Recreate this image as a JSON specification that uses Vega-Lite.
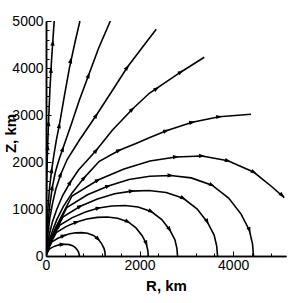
{
  "$schema": "https://vega.github.io/schema/vega-lite/v6.json",
  "width": 240,
  "height": 235,
  "autosize": "none",
  "padding": {"left": 46, "top": 21, "right": 17, "bottom": 47},
  "background": "white",
  "config": {"view": {"stroke": null}, "font": "Liberation Sans"},
  "resolve": {"axis": {"x": "independent", "y": "independent"}},
  "datasets": {
    "lines": [
      {"c":"A","R":0,"Z":0},{"c":"A","R":4,"Z":760},{"c":"A","R":15,"Z":1611},{"c":"A","R":32,"Z":2249},{"c":"A","R":56,"Z":2888},{"c":"A","R":83,"Z":3526},{"c":"A","R":118,"Z":4164},{"c":"A","R":147,"Z":4590},{"c":"A","R":176,"Z":5000},
      {"c":"B","R":0,"Z":0},{"c":"B","R":6,"Z":334},{"c":"B","R":24,"Z":717},{"c":"B","R":47,"Z":1100},{"c":"B","R":79,"Z":1483},{"c":"B","R":120,"Z":1824},{"c":"B","R":167,"Z":2143},{"c":"B","R":220,"Z":2462},{"c":"B","R":284,"Z":2781},{"c":"B","R":391,"Z":3398},{"c":"B","R":498,"Z":3988},{"c":"B","R":620,"Z":4548},{"c":"B","R":725,"Z":5000},
      {"c":"C","R":0,"Z":0},{"c":"C","R":17,"Z":334},{"c":"C","R":45,"Z":717},{"c":"C","R":83,"Z":1100},{"c":"C","R":135,"Z":1462},{"c":"C","R":199,"Z":1781},{"c":"C","R":274,"Z":2037},{"c":"C","R":359,"Z":2281},{"c":"C","R":541,"Z":2803},{"c":"C","R":712,"Z":3313},{"c":"C","R":910,"Z":3845},{"c":"C","R":1124,"Z":4420},{"c":"C","R":1375,"Z":5000},
      {"c":"D","R":0,"Z":0},{"c":"D","R":19,"Z":228},{"c":"D","R":45,"Z":505},{"c":"D","R":81,"Z":803},{"c":"D","R":135,"Z":1100},{"c":"D","R":209,"Z":1420},{"c":"D","R":316,"Z":1739},{"c":"D","R":455,"Z":2058},{"c":"D","R":712,"Z":2462},{"c":"D","R":1075,"Z":2994},{"c":"D","R":1395,"Z":3483},{"c":"D","R":1737,"Z":4015},{"c":"D","R":2208,"Z":4633},{"c":"D","R":2357,"Z":4825},
      {"c":"E","R":0,"Z":0},{"c":"E","R":28,"Z":228},{"c":"E","R":71,"Z":462},{"c":"E","R":135,"Z":717},{"c":"E","R":231,"Z":994},{"c":"E","R":359,"Z":1292},{"c":"E","R":519,"Z":1569},{"c":"E","R":690,"Z":1824},{"c":"E","R":883,"Z":2037},{"c":"E","R":1075,"Z":2249},{"c":"E","R":1417,"Z":2675},{"c":"E","R":1844,"Z":3122},{"c":"E","R":2208,"Z":3462},{"c":"E","R":2885,"Z":3916},{"c":"E","R":3383,"Z":4228},
      {"c":"F","R":0,"Z":0},{"c":"F","R":49,"Z":249},{"c":"F","R":124,"Z":496},{"c":"F","R":231,"Z":773},{"c":"F","R":370,"Z":1050},{"c":"F","R":562,"Z":1348},{"c":"F","R":818,"Z":1668},{"c":"F","R":1139,"Z":2015},{"c":"F","R":1566,"Z":2249},{"c":"F","R":1923,"Z":2392},{"c":"F","R":2208,"Z":2515},{"c":"F","R":2571,"Z":2664},{"c":"F","R":3126,"Z":2845},{"c":"F","R":3703,"Z":2962},{"c":"F","R":4381,"Z":3015},
      {"c":"G","R":0,"Z":0},{"c":"G","R":56,"Z":255},{"c":"G","R":222,"Z":638},{"c":"G","R":556,"Z":1277},{"c":"G","R":1111,"Z":1617},{"c":"G","R":1667,"Z":1851},{"c":"G","R":2222,"Z":2022},{"c":"G","R":2778,"Z":2107},{"c":"G","R":3334,"Z":2128},{"c":"G","R":3889,"Z":2026},{"c":"G","R":4445,"Z":1781},{"c":"G","R":4815,"Z":1484},{"c":"G","R":5093,"Z":1243},
      {"c":"H","R":0,"Z":0},{"c":"H","R":44,"Z":206},{"c":"H","R":177,"Z":514},{"c":"H","R":444,"Z":1028},{"c":"H","R":887,"Z":1302},{"c":"H","R":1331,"Z":1490},{"c":"H","R":1774,"Z":1627},{"c":"H","R":2218,"Z":1696},{"c":"H","R":2662,"Z":1713},{"c":"H","R":3105,"Z":1662},{"c":"H","R":3549,"Z":1507},{"c":"H","R":3904,"Z":1233},{"c":"H","R":4170,"Z":891},{"c":"H","R":4347,"Z":548},{"c":"H","R":4414,"Z":257},{"c":"H","R":4436,"Z":0},
      {"c":"I","R":0,"Z":0},{"c":"I","R":37,"Z":167},{"c":"I","R":147,"Z":418},{"c":"I","R":367,"Z":836},{"c":"I","R":733,"Z":1059},{"c":"I","R":1100,"Z":1213},{"c":"I","R":1467,"Z":1324},{"c":"I","R":1834,"Z":1380},{"c":"I","R":2200,"Z":1394},{"c":"I","R":2567,"Z":1352},{"c":"I","R":2934,"Z":1227},{"c":"I","R":3227,"Z":1004},{"c":"I","R":3447,"Z":725},{"c":"I","R":3594,"Z":446},{"c":"I","R":3649,"Z":209},{"c":"I","R":3667,"Z":0},
      {"c":"J","R":0,"Z":0},{"c":"J","R":28,"Z":129},{"c":"J","R":112,"Z":323},{"c":"J","R":281,"Z":645},{"c":"J","R":562,"Z":817},{"c":"J","R":844,"Z":935},{"c":"J","R":1125,"Z":1021},{"c":"J","R":1406,"Z":1064},{"c":"J","R":1687,"Z":1075},{"c":"J","R":1968,"Z":1043},{"c":"J","R":2250,"Z":946},{"c":"J","R":2475,"Z":774},{"c":"J","R":2643,"Z":559},{"c":"J","R":2756,"Z":344},{"c":"J","R":2798,"Z":161},{"c":"J","R":2812,"Z":0},
      {"c":"K","R":0,"Z":0},{"c":"K","R":22,"Z":100},{"c":"K","R":87,"Z":249},{"c":"K","R":219,"Z":498},{"c":"K","R":437,"Z":631},{"c":"K","R":656,"Z":722},{"c":"K","R":874,"Z":789},{"c":"K","R":1093,"Z":822},{"c":"K","R":1312,"Z":830},{"c":"K","R":1530,"Z":805},{"c":"K","R":1749,"Z":730},{"c":"K","R":1924,"Z":598},{"c":"K","R":2055,"Z":432},{"c":"K","R":2142,"Z":266},{"c":"K","R":2175,"Z":125},{"c":"K","R":2186,"Z":0},
      {"c":"L","R":0,"Z":0},{"c":"L","R":13,"Z":60},{"c":"L","R":51,"Z":149},{"c":"L","R":127,"Z":299},{"c":"L","R":253,"Z":378},{"c":"L","R":380,"Z":433},{"c":"L","R":507,"Z":473},{"c":"L","R":634,"Z":493},{"c":"L","R":760,"Z":498},{"c":"L","R":887,"Z":483},{"c":"L","R":1014,"Z":438},{"c":"L","R":1115,"Z":359},{"c":"L","R":1191,"Z":259},{"c":"L","R":1242,"Z":159},{"c":"L","R":1261,"Z":75},{"c":"L","R":1267,"Z":0},
      {"c":"M","R":0,"Z":0},{"c":"M","R":7,"Z":30},{"c":"M","R":28,"Z":75},{"c":"M","R":71,"Z":149},{"c":"M","R":142,"Z":189},{"c":"M","R":214,"Z":217},{"c":"M","R":285,"Z":237},{"c":"M","R":356,"Z":247},{"c":"M","R":427,"Z":249},{"c":"M","R":498,"Z":242},{"c":"M","R":570,"Z":219},{"c":"M","R":627,"Z":179},{"c":"M","R":669,"Z":129},{"c":"M","R":698,"Z":80},{"c":"M","R":708,"Z":37},{"c":"M","R":712,"Z":0}
    ],
    "arrows": [
      {"R":35,"Z":2317,"heading":2},{"R":54,"Z":2828,"heading":2.3},{"R":107,"Z":3958,"heading":3.1},{"R":144,"Z":4540,"heading":3.9},
      {"R":120,"Z":1824,"heading":7.8},{"R":284,"Z":2781,"heading":9.8},{"R":529,"Z":4164,"heading":12.3},
      {"R":135,"Z":1462,"heading":11.3},{"R":359,"Z":2281,"heading":19.2},{"R":910,"Z":3845,"heading":20.4},
      {"R":316,"Z":1739,"heading":23.5},{"R":1075,"Z":2994,"heading":33.2},{"R":1737,"Z":4015,"heading":37.3},
      {"R":519,"Z":1569,"heading":31.7},{"R":1075,"Z":2249,"heading":38.8},{"R":1844,"Z":3122,"heading":47},{"R":2365,"Z":3562,"heading":56},{"R":2885,"Z":3916,"heading":58},
      {"R":818,"Z":1668,"heading":42.8},{"R":1566,"Z":2249,"heading":68},{"R":2571,"Z":2664,"heading":71.9},{"R":3126,"Z":2845,"heading":78.5},{"R":3703,"Z":2962,"heading":85.5},
      {"R":1111,"Z":1617,"heading":62.7},{"R":2778,"Z":2107,"heading":87},{"R":3334,"Z":2128,"heading":92},{"R":3889,"Z":2026,"heading":107},{"R":4445,"Z":1781,"heading":120},{"R":5050,"Z":1290,"heading":131},
      {"R":1331,"Z":1490,"heading":70},{"R":2662,"Z":1713,"heading":91},{"R":3549,"Z":1507,"heading":118},{"R":4347,"Z":548,"heading":162},
      {"R":733,"Z":1059,"heading":62.8},{"R":1834,"Z":1380,"heading":84},{"R":2934,"Z":1227,"heading":117.8},{"R":3447,"Z":725,"heading":154.8},
      {"R":281,"Z":645,"heading":42.3},{"R":1125,"Z":1021,"heading":77},{"R":2250,"Z":946,"heading":118},{"R":2643,"Z":559,"heading":146.8},
      {"R":656,"Z":722,"heading":70},{"R":1749,"Z":730,"heading":117.7},{"R":2142,"Z":266,"heading":158.6},
      {"R":380,"Z":433,"heading":69.5},{"R":1115,"Z":359,"heading":135.3},
      {"R":356,"Z":247,"heading":85}
    ]
  },
  "layer": [
    {
      "data": {"name": "lines"},
      "mark": {"type": "line", "color": "black", "strokeWidth": 1.6, "clip": true},
      "encoding": {
        "x": {
          "field": "R", "type": "quantitative",
          "scale": {"domain": [0, 5130], "nice": false, "zero": false},
          "axis": {
            "orient": "bottom",
            "values": [400,800,1200,1600,2400,2800,3200,3600,4400,4800],
            "labels": false, "grid": false, "title": null,
            "tickSize": -3, "tickColor": "black", "tickWidth": 1,
            "domainColor": "black", "domainWidth": 1.5
          }
        },
        "y": {
          "field": "Z", "type": "quantitative",
          "scale": {"domain": [0, 5000], "nice": false, "zero": false},
          "axis": {
            "orient": "left",
            "values": [200,400,600,800,1200,1400,1600,1800,2200,2400,2600,2800,3200,3400,3600,3800,4200,4400,4600,4800],
            "labels": false, "grid": false, "title": null,
            "tickSize": -3, "tickColor": "black", "tickWidth": 1,
            "domainColor": "black", "domainWidth": 1.5
          }
        },
        "detail": {"field": "c", "type": "nominal"},
        "order": {"value": null}
      }
    },
    {
      "data": {"name": "arrows"},
      "mark": {"type": "point", "shape": "M0,-1L0.7,1L-0.7,1Z", "filled": true, "color": "black", "opacity": 1, "size": 36},
      "encoding": {
        "x": {
          "field": "R", "type": "quantitative",
          "axis": {
            "orient": "bottom",
            "values": [0, 2000, 4000],
            "format": "d",
            "tickSize": -5, "tickColor": "black", "tickWidth": 1,
            "grid": false, "domainColor": "black", "domainWidth": 1.5,
            "labelFont": "Liberation Sans", "labelFontSize": 14, "labelColor": "black",
            "labelPadding": 7, "labelFlush": false, "labelOverlap": false,
            "title": "R, km", "titleFont": "Liberation Sans", "titleFontSize": 15,
            "titleFontWeight": "bold", "titleColor": "black",
            "titleX": 120, "titleY": 34, "titleBaseline": "alphabetic", "titleAlign": "center"
          }
        },
        "y": {
          "field": "Z", "type": "quantitative",
          "axis": {
            "orient": "left",
            "values": [0, 1000, 2000, 3000, 4000, 5000],
            "format": "d",
            "tickSize": -5, "tickColor": "black", "tickWidth": 1,
            "grid": false, "domainColor": "black", "domainWidth": 1.5,
            "labelFont": "Liberation Sans", "labelFontSize": 14, "labelColor": "black",
            "labelPadding": 8, "labelFlush": false, "labelOverlap": false,
            "title": "Z, km", "titleFont": "Liberation Sans", "titleFontSize": 15,
            "titleFontWeight": "bold", "titleColor": "black",
            "titleAngle": 270, "titleX": -31, "titleY": 112, "titleBaseline": "alphabetic", "titleAlign": "center"
          }
        },
        "angle": {"field": "heading", "type": "quantitative", "scale": {"domain": [0, 360], "range": [0, 360]}}
      }
    }
  ]
}
